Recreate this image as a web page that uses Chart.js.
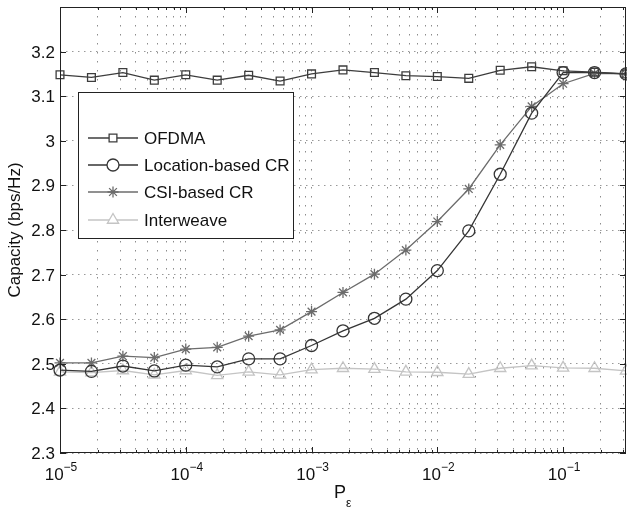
<!DOCTYPE html>
<html>
<head>
<meta charset="utf-8">
<script src="https://cdn.jsdelivr.net/npm/chart.js@4.4.1/dist/chart.umd.min.js"></script>
<style>
  html, body { margin: 0; padding: 0; background: #fff; }
  #wrap { width: 627px; height: 508px; }
</style>
</head>
<body>
<div id="wrap"><canvas id="myChart"></canvas></div>
<script>
// P_eps values (quarter-decade steps)
const pe = [1e-5, 1.778e-5, 3.162e-5, 5.623e-5, 1e-4, 1.778e-4, 3.162e-4, 5.623e-4,
  1e-3, 1.778e-3, 3.162e-3, 5.623e-3, 1e-2, 1.778e-2, 3.162e-2, 5.623e-2,
  1e-1, 1.778e-1, 3.162e-1];

const ofdma = [3.148, 3.142, 3.153, 3.136, 3.148, 3.136, 3.147, 3.134, 3.150, 3.159,
  3.153, 3.146, 3.144, 3.140, 3.158, 3.166, 3.157, 3.154, 3.150];
const locationCR = [2.486, 2.483, 2.495, 2.484, 2.497, 2.493, 2.511, 2.511, 2.541, 2.574,
  2.602, 2.645, 2.709, 2.798, 2.925, 3.062, 3.153, 3.153, 3.150];
const csiCR = [2.502, 2.502, 2.517, 2.514, 2.533, 2.537, 2.562, 2.576, 2.617, 2.660,
  2.701, 2.755, 2.819, 2.892, 2.991, 3.077, 3.128, 3.151, 3.150];
const interweave = [2.482, 2.480, 2.485, 2.475, 2.485, 2.474, 2.482, 2.475, 2.487, 2.490,
  2.488, 2.482, 2.481, 2.477, 2.490, 2.496, 2.491, 2.490, 2.484];

const yTicks = [2.3, 2.4, 2.5, 2.6, 2.7, 2.8, 2.9, 3, 3.1, 3.2];
const xDecades = [-5, -4, -3, -2, -1];

const FONT = '"Liberation Sans", Arial, Helvetica, sans-serif';

function pts(ys) {
  return ys.map((y, i) => ({ x: pe[i], y: y }));
}

// all the 1..9 x 10^k positions for the dotted grid
function logGridTicks(min, max) {
  const out = [];
  for (let k = -5; k <= 0; k++) {
    for (let m = 1; m <= 9; m++) {
      const v = m * Math.pow(10, k);
      if (v >= min * 0.999 && v <= max) out.push({ value: v, major: m === 1 });
    }
  }
  return out;
}

const series = [
  { label: 'OFDMA', data: ofdma, color: '#3d3d3d', style: 'rect', r: 5.5 },
  { label: 'Location-based CR', data: locationCR, color: '#353535', style: 'circle', r: 6 },
  { label: 'CSI-based CR', data: csiCR, color: '#6c6c6c', style: 'star', r: 5.5 },
  { label: 'Interweave', data: interweave, color: '#c4c4c4', style: 'triangle', r: 6.5 }
];

const matlabAxes = {
  id: 'matlabAxes',
  afterDraw(chart) {
    const ctx = chart.ctx;
    const a = chart.chartArea;
    const xs = chart.scales.x, ys = chart.scales.y;
    ctx.save();
    // frame
    ctx.strokeStyle = '#222';
    ctx.lineWidth = 1;
    ctx.strokeRect(a.left + 0.5, a.top + 0.5, a.right - a.left - 1, a.bottom - a.top - 1);

    // y ticks + labels
    ctx.fillStyle = '#111';
    ctx.font = '17px ' + FONT;
    ctx.textAlign = 'right';
    ctx.textBaseline = 'middle';
    yTicks.forEach(v => {
      const y = Math.round(ys.getPixelForValue(v)) + 0.5;
      ctx.beginPath();
      ctx.moveTo(a.left, y); ctx.lineTo(a.left + 6, y);
      ctx.moveTo(a.right, y); ctx.lineTo(a.right - 6, y);
      ctx.stroke();
      ctx.fillText(v === 3 ? '3' : v.toFixed(1), a.left - 5, y + 1);
    });

    // x ticks
    logGridTicks(xs.min, xs.max).forEach(t => {
      const x = Math.round(xs.getPixelForValue(t.value)) + 0.5;
      const len = t.major ? 6 : 3;
      ctx.beginPath();
      ctx.moveTo(x, a.bottom); ctx.lineTo(x, a.bottom - len);
      ctx.moveTo(x, a.top); ctx.lineTo(x, a.top + len);
      ctx.stroke();
    });

    // x labels 10^k
    ctx.textBaseline = 'alphabetic';
    ctx.textAlign = 'left';
    xDecades.forEach(k => {
      const x = xs.getPixelForValue(Math.pow(10, k));
      ctx.font = '17px ' + FONT;
      const w1 = ctx.measureText('10').width;
      ctx.font = '12px ' + FONT;
      const sup = '\u2212' + Math.abs(k);
      const w2 = ctx.measureText(sup).width;
      const x0 = x - (w1 + w2) / 2 + 1;
      ctx.font = '17px ' + FONT;
      ctx.fillText('10', x0, a.bottom + 27);
      ctx.font = '12px ' + FONT;
      ctx.fillText(sup, x0 + w1, a.bottom + 18);
    });

    // x title P_eps
    ctx.font = '18px ' + FONT;
    ctx.fillText('P', 334, 498);
    ctx.font = '12px ' + FONT;
    ctx.fillText('\u03b5', 346, 507);

    // y title
    ctx.save();
    ctx.translate(15, 230);
    ctx.rotate(-Math.PI / 2);
    ctx.font = '17px ' + FONT;
    ctx.textAlign = 'center';
    ctx.textBaseline = 'middle';
    ctx.fillText('Capacity (bps/Hz)', 0, 0);
    ctx.restore();

    // legend box
    const lx = 78, ly = 92, lw = 215, lh = 146;
    ctx.fillStyle = '#fff';
    ctx.fillRect(lx, ly, lw, lh);
    ctx.strokeStyle = '#222';
    ctx.lineWidth = 1;
    ctx.strokeRect(lx + 0.5, ly + 0.5, lw, lh);
    const rows = [138, 165, 192, 220];
    series.forEach((s, i) => {
      const y = rows[i];
      ctx.strokeStyle = s.color;
      ctx.lineWidth = 1.3;
      ctx.beginPath();
      ctx.moveTo(88, y); ctx.lineTo(138, y);
      ctx.stroke();
      ctx.fillStyle = '#fff';
      Chart.helpers.drawPoint(ctx, {
        pointStyle: s.style, radius: s.r, rotation: 0, borderWidth: 1.3
      }, 113, y);
      ctx.fillStyle = '#111';
      ctx.font = '17px ' + FONT;
      ctx.textAlign = 'left';
      ctx.textBaseline = 'middle';
      ctx.fillText(s.label, 144, y + 1);
    });
    ctx.restore();
  }
};

const ctx = document.getElementById('myChart');

new Chart(ctx, {
  type: 'line',
  data: {
    datasets: series.map(s => ({
      label: s.label,
      data: pts(s.data),
      borderColor: s.color,
      backgroundColor: 'rgba(0,0,0,0)',
      borderWidth: 1.3,
      pointStyle: s.style,
      pointRadius: s.r,
      pointBorderWidth: 1.3,
      pointBorderColor: s.color,
      pointBackgroundColor: 'rgba(0,0,0,0)',
      tension: 0,
      clip: 8
    }))
  },
  options: {
    responsive: true,
    maintainAspectRatio: false,
    animation: false,
    events: [],
    layout: { autoPadding: false, padding: { top: 7, right: 1, left: 0, bottom: 0 } },
    plugins: {
      legend: { display: false },
      tooltip: { enabled: false }
    },
    scales: {
      x: {
        type: 'logarithmic',
        min: 1e-5,
        max: 0.3163,
        afterBuildTicks(scale) {
          scale.ticks = logGridTicks(1e-5, 0.3163).map(t => ({ value: t.value }));
        },
        afterFit(scale) { scale.height = 55; },
        ticks: { display: false },
        grid: { color: 'rgba(0,0,0,0.45)', lineWidth: 1, drawTicks: false },
        border: { display: false, dash: [1.5, 7.5] }
      },
      y: {
        type: 'linear',
        min: 2.3,
        max: 3.3,
        ticks: { display: false, stepSize: 0.1 },
        afterFit(scale) { scale.width = 60; },
        grid: { color: 'rgba(0,0,0,0.4)', lineWidth: 1, drawTicks: false },
        border: { display: false, dash: [1.5, 4.5] }
      }
    }
  },
  plugins: [matlabAxes]
});
</script>
</body>
</html>
